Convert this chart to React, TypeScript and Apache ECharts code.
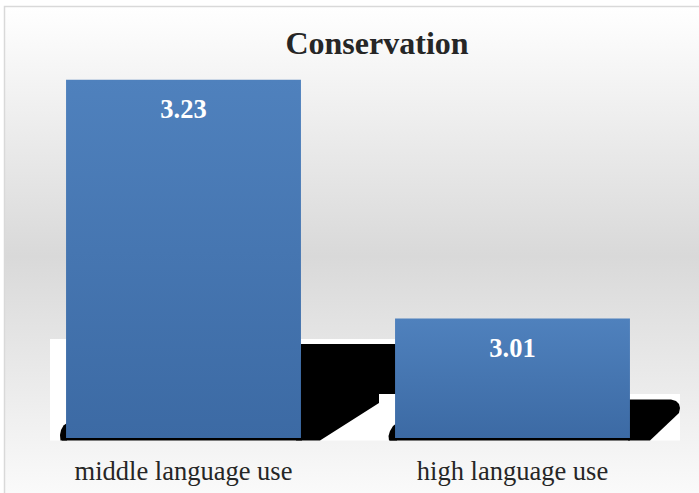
import React, { useEffect, useRef } from 'react';
import * as echarts from 'echarts';

const categories = ['middle language use', 'high language use'];
const values = [3.23, 3.01];
const axisMin = 2.9;
const axisMax = 3.25;
const titleText = 'Conservation';

export default function App() {
  const ref = useRef<HTMLDivElement>(null);
  useEffect(() => {
    const chart = echarts.init(ref.current!, null, { renderer: 'svg' });
    const serif = "'Liberation Serif', 'Times New Roman', serif";
    const bgGrad = new echarts.graphic.LinearGradient(0, 0, 0, 1, [
      { offset: 0, color: '#ffffff' },
      { offset: 0.48, color: '#d9d9d9' },
      { offset: 0.935, color: '#fafafa' },
      { offset: 1, color: '#ffffff' },
    ]);
    const barGrad = new echarts.graphic.LinearGradient(0, 0, 0, 1, [
      { offset: 0, color: '#4f81bd' },
      { offset: 1, color: '#3c6aa4' },
    ]);
    const black = { fill: '#000000' };
    chart.setOption({
      animation: false,
      grid: { left: 19, right: 22, top: 58, bottom: 55, outerBoundsMode: 'none' },
      xAxis: {
        type: 'category',
        data: categories,
        axisLine: { show: false },
        axisTick: { show: false },
        splitLine: { show: false },
        axisLabel: { fontSize: 26.5, fontFamily: serif, color: '#262626', margin: 19 },
      },
      yAxis: { type: 'value', min: axisMin, max: axisMax, show: false, splitLine: { show: false } },
      series: [
        {
          type: 'bar',
          data: values,
          barCategoryGap: '28.6%',
          z: 5,
          itemStyle: { color: barGrad },
          label: {
            show: true,
            position: 'insideTop',
            distance: 16,
            fontSize: 26.5,
            fontWeight: 'bold',
            color: '#ffffff',
            fontFamily: serif,
          },
        },
      ],
      graphic: [
        {
          type: 'rect',
          z: -100,
          silent: true,
          shape: { x: 4.5, y: 6.5, width: 720, height: 520 },
          style: { fill: bgGrad, stroke: '#d9d9d9', lineWidth: 1.5 },
        },
        {
          type: 'text',
          z: 10,
          x: 377,
          y: 27,
          style: {
            text: titleText,
            textAlign: 'center',
            textVerticalAlign: 'top',
            fontSize: 32,
            fontWeight: 'bold',
            fontFamily: serif,
            fill: '#262626',
          },
        },
        { type: 'rect', z: 1, shape: { x: 50, y: 339, width: 346, height: 101.5 }, style: { fill: '#ffffff' } },
        {
          type: 'polygon', z: 2,
          shape: { points: [[301, 344], [396, 344], [396, 394], [379, 394], [379, 403], [320, 440.5], [296, 440.5]] },
          style: black,
        },
        { type: 'rect', z: 2, shape: { x: 62, y: 437.5, width: 240, height: 3 }, style: black },
        {
          type: 'polygon', z: 2,
          shape: { points: [[67, 423], [63.5, 425.5], [61, 430], [60, 435], [60.5, 440.5], [67, 440.5]] },
          style: black,
        },
        { type: 'rect', z: 1, shape: { x: 629, y: 394, width: 51, height: 46.5 }, style: { fill: '#ffffff' } },
        {
          type: 'polygon', z: 2,
          shape: { points: [[628, 399.5], [671, 399.5], [676, 401], [679, 404], [680, 408], [679, 413], [650, 440.5], [628, 440.5]] },
          style: black,
        },
        { type: 'rect', z: 2, shape: { x: 390, y: 437.5, width: 240, height: 3 }, style: black },
        {
          type: 'polygon', z: 2,
          shape: { points: [[397, 423], [393, 426], [390, 431], [388.5, 436], [389, 440.5], [397, 440.5]] },
          style: black,
        },
      ],
    });
    return () => chart.dispose();
  }, []);
  return (
    <div
      ref={ref}
      style={{ position: 'absolute', left: 0, top: 0, width: 699, height: 493 }}
    />
  );
}
